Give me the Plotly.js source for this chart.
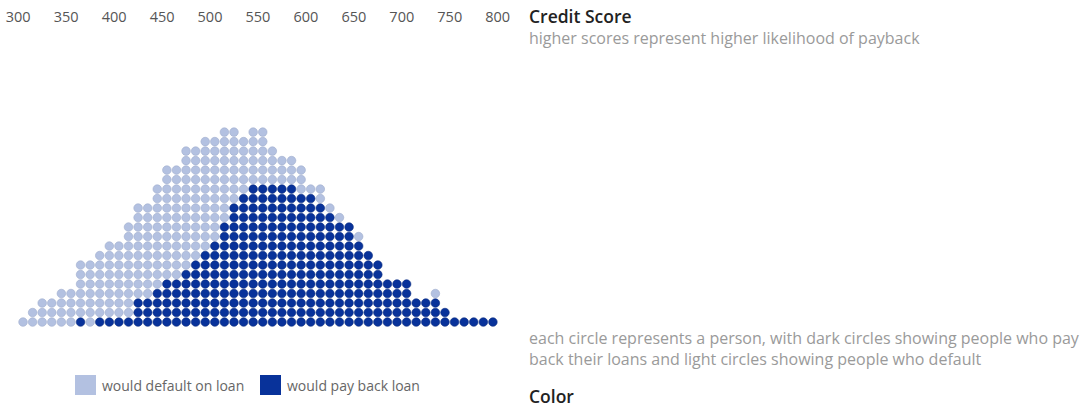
<!DOCTYPE html>
<html>
<head>
<meta charset="utf-8">
<script src="https://cdn.plot.ly/plotly-3.0.1.min.js"></script>
<style>
  body { margin: 0; background: #fff; }
  #chart { width: 1080px; height: 408px; }
</style>
</head>
<body>
<div id="chart"></div>
<script>
// one column of circles per 10-point score bin
const scores = [305, 315, 325, 335, 345, 355, 365, 375, 385, 395,
                405, 415, 425, 435, 445, 455, 465, 475, 485, 495,
                505, 515, 525, 535, 545, 555, 565, 575, 585, 595,
                605, 615, 625, 635, 645, 655, 665, 675, 685, 695,
                705, 715, 725, 735, 745, 755, 765, 775, 785, 795];

// people who pay back (dark, stacked at the bottom)
const payBack = [0, 0, 0, 0, 0, 0, 1, 0, 1, 1,
                 1, 1, 3, 3, 4, 5, 5, 6, 7, 8,
                 9, 11, 13, 14, 15, 15, 15, 15, 15, 14,
                 14, 13, 12, 11, 11, 9, 8, 7, 5, 5,
                 5, 3, 3, 3, 2, 1, 1, 1, 1, 1];

// people who default (light, stacked on top)
const defaults = [1, 2, 3, 3, 4, 4, 6, 7, 7, 8,
                  8, 10, 10, 10, 11, 12, 12, 13, 12, 12,
                  11, 10, 8, 6, 6, 6, 4, 3, 3, 3,
                  1, 2, 1, 1, 0, 1, 0, 0, 0, 0,
                  0, 0, 0, 1, 0, 0, 0, 0, 0, 0];

const tickVals = [300, 350, 400, 450, 500, 550, 600, 650, 700, 750, 800];

const lightColor = '#b3c1e1';
const darkColor = '#08329a';

// turn the counts into one point per person
let darkX = [], darkY = [], lightX = [], lightY = [];
scores.forEach((s, i) => {
  for (let r = 0; r < payBack[i]; r++) { darkX.push(s); darkY.push(r); }
  for (let r = 0; r < defaults[i]; r++) { lightX.push(s); lightY.push(payBack[i] + r); }
});

const traces = [{
  x: lightX, y: lightY,
  type: 'scatter', mode: 'markers', name: 'would default on loan',
  marker: { size: 8.6, color: lightColor, line: { color: '#9fadcc', width: 0.6 } },
  hoverinfo: 'x', showlegend: false
}, {
  x: darkX, y: darkY,
  type: 'scatter', mode: 'markers', name: 'would pay back loan',
  marker: { size: 8.6, color: darkColor, line: { color: '#0a2c80', width: 0.6 } },
  hoverinfo: 'x', showlegend: false
}];

const txt = '#9a9a9a';
const head = { size: 17.5, color: '#222', weight: 600 };
const grey = { size: 16, color: txt };

// helper for the explanatory text on the right
function note(text, py, font) {
  return { text: text, xref: 'paper', yref: 'paper', align: 'left',
           x: 527 / 1080, y: 1 - py / 408, xanchor: 'left', yanchor: 'middle',
           showarrow: false, font: font };
}

const layout = {
  width: 1080, height: 408,
  margin: { l: 0, r: 0, t: 0, b: 0 },
  paper_bgcolor: '#fff', plot_bgcolor: '#fff',
  font: { family: '"Open Sans", "Noto Sans", sans-serif' },
  xaxis: {
    domain: [0, 0.5],
    range: [281.0, 844.1],
    side: 'top',
    tickvals: tickVals,
    ticktext: tickVals.map(String),
    tickfont: { size: 14.5, color: '#555' },
    showgrid: false, zeroline: false, showline: false, ticks: '',
    fixedrange: true
  },
  yaxis: {
    domain: [0.1667, 0.936],
    range: [-1.89, 31.16],
    visible: false,
    fixedrange: true
  },
  showlegend: false,
  shapes: [
    { type: 'rect', xref: 'paper', yref: 'paper',
      x0: 75 / 1080, x1: 96 / 1080, y0: 1 - 395 / 408, y1: 1 - 375 / 408,
      fillcolor: lightColor, line: { width: 0 } },
    { type: 'rect', xref: 'paper', yref: 'paper',
      x0: 260 / 1080, x1: 281 / 1080, y0: 1 - 395 / 408, y1: 1 - 375 / 408,
      fillcolor: darkColor, line: { width: 0 } }
  ],
  annotations: [
    { text: 'would default on loan', xref: 'paper', yref: 'paper',
      x: 100 / 1080, y: 1 - 385 / 408, xanchor: 'left', yanchor: 'middle',
      showarrow: false, font: { size: 14, color: '#666' } },
    { text: 'would pay back loan', xref: 'paper', yref: 'paper',
      x: 285 / 1080, y: 1 - 385 / 408, xanchor: 'left', yanchor: 'middle',
      showarrow: false, font: { size: 14, color: '#666' } },
    note('Credit Score', 16, head),
    note('higher scores represent higher likelihood of payback', 38, grey),
    note('each circle represents a person, with dark circles showing people who pay<br>back their loans and light circles showing people who default', 348, grey),
    note('Color', 396, head)
  ]
};

Plotly.newPlot('chart', traces, layout, { displayModeBar: false, staticPlot: true });
</script>
</body>
</html>
